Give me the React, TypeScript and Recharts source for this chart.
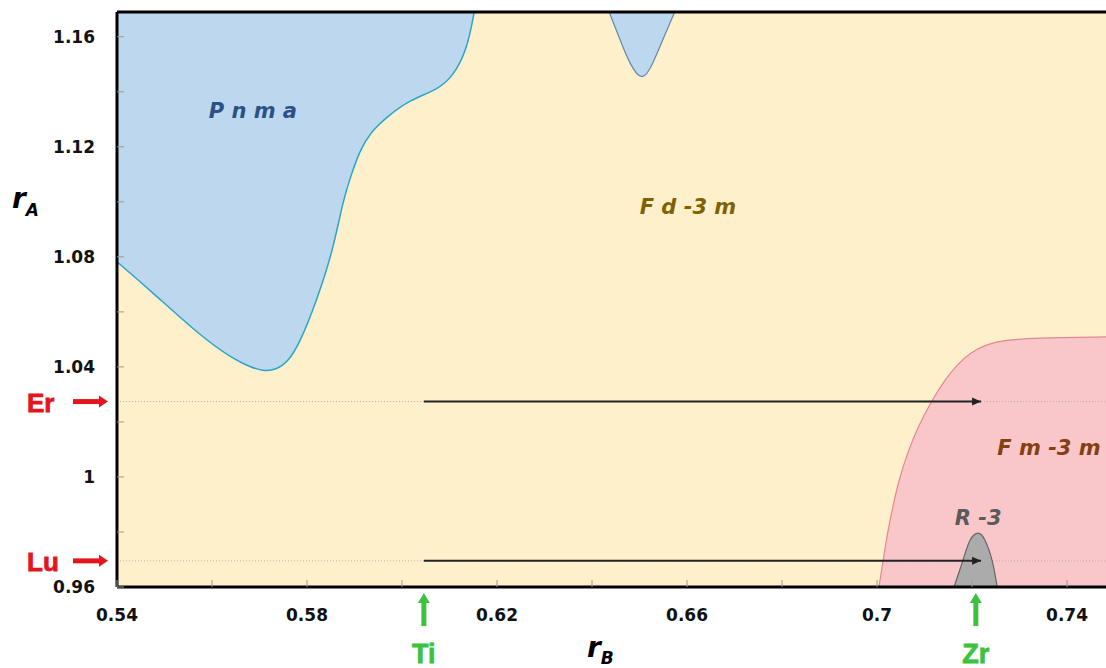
import React from 'react'
import {
  Area,
  CartesianGrid,
  ComposedChart,
  Line,
  ReferenceLine,
  Scatter,
  XAxis,
  YAxis,
} from 'recharts'

// axis ranges (picture is cropped on the right)
const X_MIN = 0.54
const X_MAX = 0.7482
const Y_MIN = 0.96
const Y_MAX = 1.169

const xTicks = [0.54, 0.56, 0.58, 0.6, 0.62, 0.64, 0.66, 0.68, 0.7, 0.72, 0.74]
const xMajor = [0.54, 0.58, 0.62, 0.66, 0.7, 0.74]
const yTicks = [0.96, 0.98, 1, 1.02, 1.04, 1.06, 1.08, 1.1, 1.12, 1.14, 1.16]
const yMajor = [0.96, 1, 1.04, 1.08, 1.12, 1.16]

// Pnma boundary (region above the curve)
const pnmaRB = [0.54, 0.5469, 0.5575, 0.5644, 0.568, 0.5707, 0.5735, 0.576, 0.5785, 0.5821, 0.5855, 0.5876, 0.5893, 0.5912, 0.5933, 0.5968, 0.6017, 0.6074, 0.6107, 0.6137, 0.6152]
const pnmaRA = [1.0782, 1.068, 1.0513, 1.0429, 1.04, 1.0385, 1.0389, 1.0418, 1.0487, 1.0644, 1.0825, 1.1007, 1.1098, 1.1189, 1.1251, 1.1309, 1.1371, 1.1407, 1.1455, 1.1553, 1.169]

// small Pnma pocket at the top
const pocketRB = [0.6436, 0.6459, 0.648, 0.6505, 0.6528, 0.6549, 0.6574]
const pocketRA = [1.169, 1.1589, 1.1505, 1.1455, 1.1505, 1.1589, 1.169]

// Fm-3m boundary (region below the curve)
const fmRB = [0.7004, 0.7013, 0.7022, 0.7033, 0.7046, 0.7064, 0.7086, 0.7116, 0.7143, 0.7168, 0.7196, 0.7227, 0.7269, 0.7333, 0.7482]
const fmRA = [0.96, 0.9698, 0.9796, 0.9891, 0.9989, 1.0087, 1.0182, 1.028, 1.0353, 1.0407, 1.0451, 1.048, 1.0498, 1.0505, 1.0509]

// R-3 bump
const r3RB = [0.7162, 0.7181, 0.7196, 0.7213, 0.7227, 0.7242, 0.7253]
const r3RA = [0.96, 0.9698, 0.9771, 0.9796, 0.9771, 0.9698, 0.96]

// ions
const ER = 1.0274
const LU = 0.9695
const TI = 0.6046
const ZR = 0.7208
const ARROW_END = 0.7219

const phaseNames = ['P n m a', 'F d -3 m', 'F m -3 m', 'R -3']
const phaseRB = [0.5686, 0.6602, 0.7362, 0.7213]
const phaseRA = [1.1331, 1.0982, 1.0105, 0.9851]
const phaseColors = ['#2a5286', '#7f6200', '#843f12', '#5a5a5a']

const zip = (xs: number[], ys: number[]) => xs.map((x, i) => ({ x, y: ys[i] }))

const pnmaData = zip(pnmaRB, pnmaRA)
const pocketData = zip(pocketRB, pocketRA)
const fmData = zip(fmRB, fmRA)
const r3Data = zip(r3RB, r3RA)
const erArrow = zip([TI, ARROW_END], [ER, ER])
const luArrow = zip([TI, ARROW_END], [LU, LU])
const phaseData = phaseNames.map((name, i) => ({
  name,
  x: phaseRB[i],
  y: phaseRA[i],
  color: phaseColors[i],
}))

const NUM_FONT = '"DejaVu Sans", Verdana, sans-serif'
const LBL_FONT = '"Liberation Sans", Arial, sans-serif'
const RED = '#e3161b'
const GREEN = '#3cc23c'

function XTick({ x, y, payload }: any) {
  const major = xMajor.includes(payload.value)
  return (
    <g>
      <line x1={x} x2={x} y1={y} y2={y - 7} stroke="#9a9a9a" strokeWidth={1} />
      {major && (
        <text
          x={x}
          y={y + 34}
          textAnchor="middle"
          fontFamily={NUM_FONT}
          fontWeight="bold"
          fontSize={17}
          fill="#111"
        >
          {String(payload.value)}
        </text>
      )}
    </g>
  )
}

function YTick({ x, y, payload }: any) {
  const major = yMajor.includes(payload.value)
  return (
    <g>
      <line x1={x} x2={x + 7} y1={y} y2={y} stroke="#9a9a9a" strokeWidth={1} />
      {major && (
        <text
          x={x - 22}
          y={y + 6}
          textAnchor="end"
          fontFamily={NUM_FONT}
          fontWeight="bold"
          fontSize={17}
          fill="#111"
        >
          {String(payload.value)}
        </text>
      )}
    </g>
  )
}

// red label + arrow left of the plot
function IonLeft({ viewBox, name }: any) {
  const x0 = viewBox.x
  const y = viewBox.y
  return (
    <g>
      <text
        x={27}
        y={y + 10}
        fontFamily={LBL_FONT}
        fontWeight="bold"
        fontSize={26}
        fill={RED}
        stroke={RED}
        strokeWidth={0.8}
      >
        {name}
      </text>
      <line x1={x0 - 44} x2={x0 - 16} y1={y} y2={y} stroke={RED} strokeWidth={5} />
      <polygon
        points={`${x0 - 9},${y} ${x0 - 18},${y - 6} ${x0 - 18},${y + 6}`}
        fill={RED}
      />
    </g>
  )
}

// green arrow + label under the plot
function IonBelow({ viewBox, name }: any) {
  const x = viewBox.x
  const yb = viewBox.y + viewBox.height
  return (
    <g>
      <line x1={x} x2={x} y1={yb + 39} y2={yb + 14} stroke={GREEN} strokeWidth={5} />
      <polygon
        points={`${x},${yb + 6} ${x - 6},${yb + 16} ${x + 6},${yb + 16}`}
        fill={GREEN}
      />
      <text
        x={x}
        y={yb + 76}
        textAnchor="middle"
        fontFamily={LBL_FONT}
        fontWeight="bold"
        fontSize={27}
        fill={GREEN}
        stroke={GREEN}
        strokeWidth={0.8}
      >
        {name}
      </text>
    </g>
  )
}

function ArrowDot({ cx, cy, index }: any) {
  if (index !== 1) return <g key={`d${index}`} />
  return (
    <polygon
      key={`d${index}`}
      points={`${cx},${cy} ${cx - 9},${cy - 4} ${cx - 9},${cy + 4}`}
      fill="#222"
    />
  )
}

function PhaseLabel({ cx, cy, payload }: any) {
  return (
    <text
      x={cx}
      y={cy}
      dy={7}
      textAnchor="middle"
      fontFamily={NUM_FONT}
      fontWeight="bold"
      fontStyle="italic"
      fontSize={21}
      fill={payload.color}
    >
      {payload.name}
    </text>
  )
}

export default function App() {
  return (
    <div style={{ position: 'absolute', left: 0, top: 0, width: 1106, height: 668, overflow: 'hidden', background: '#fff' }}>
      <ComposedChart width={1106} height={668} margin={{ top: 12, right: 0, left: 0, bottom: 0 }}>
        <CartesianGrid horizontal={false} vertical={false} fill="#fff0cc" stroke="none" />
        <XAxis
          type="number"
          dataKey="x"
          domain={[X_MIN, X_MAX]}
          allowDataOverflow
          ticks={xTicks}
          interval={0}
          height={81}
          tickSize={0}
          tickMargin={0}
          tick={<XTick />}
          axisLine={{ stroke: '#000', strokeWidth: 3 }}
          label={() => (
            <text x={587} y={657} fontFamily={NUM_FONT} fontWeight="bold" fontStyle="italic" fill="#000">
              <tspan fontSize={28}>r</tspan>
              <tspan fontSize={17} dy={7}>B</tspan>
            </text>
          )}
        />
        <YAxis
          type="number"
          dataKey="y"
          domain={[Y_MIN, Y_MAX]}
          allowDataOverflow
          ticks={yTicks}
          interval={0}
          width={117}
          tickSize={0}
          tickMargin={0}
          tick={<YTick />}
          axisLine={{ stroke: '#000', strokeWidth: 3 }}
          label={() => (
            <text x={12} y={208} fontFamily={NUM_FONT} fontWeight="bold" fontStyle="italic" fill="#000">
              <tspan fontSize={28}>r</tspan>
              <tspan fontSize={17} dy={8}>A</tspan>
            </text>
          )}
        />

        <Area
          data={pnmaData}
          dataKey="y"
          type="basis"
          baseValue="dataMax"
          fill="#bdd7ee"
          fillOpacity={1}
          stroke="#2ba6c8"
          strokeWidth={1.5}
          dot={false}
          activeDot={false}
          isAnimationActive={false}
        />
        <Area
          data={pocketData}
          dataKey="y"
          type="natural"
          baseValue="dataMax"
          fill="#bdd7ee"
          fillOpacity={1}
          stroke="#6488ac"
          strokeWidth={1.2}
          dot={false}
          activeDot={false}
          isAnimationActive={false}
        />
        <Area
          data={fmData}
          dataKey="y"
          type="basis"
          baseValue="dataMin"
          fill="#f9c7ca"
          fillOpacity={1}
          stroke="#e2898f"
          strokeWidth={1.2}
          dot={false}
          activeDot={false}
          isAnimationActive={false}
        />
        <Area
          data={r3Data}
          dataKey="y"
          type="natural"
          baseValue="dataMin"
          fill="#ababab"
          fillOpacity={1}
          stroke="#666"
          strokeWidth={1.2}
          dot={false}
          activeDot={false}
          isAnimationActive={false}
        />

        <ReferenceLine
          y={ER}
          stroke="#b9aeb0"
          strokeDasharray="1 2"
          label={(p: any) => <IonLeft viewBox={p.viewBox} name="Er" />}
        />
        <ReferenceLine
          y={LU}
          stroke="#b9aeb0"
          strokeDasharray="1 2"
          label={(p: any) => <IonLeft viewBox={p.viewBox} name="Lu" />}
        />
        <ReferenceLine
          x={TI}
          stroke="none"
          label={(p: any) => <IonBelow viewBox={p.viewBox} name="Ti" />}
        />
        <ReferenceLine
          x={ZR}
          stroke="none"
          label={(p: any) => <IonBelow viewBox={p.viewBox} name="Zr" />}
        />

        <Line
          data={erArrow}
          dataKey="y"
          stroke="#222"
          strokeWidth={2}
          dot={<ArrowDot />}
          activeDot={false}
          isAnimationActive={false}
        />
        <Line
          data={luArrow}
          dataKey="y"
          stroke="#222"
          strokeWidth={2}
          dot={<ArrowDot />}
          activeDot={false}
          isAnimationActive={false}
        />

        <Scatter data={phaseData} dataKey="y" shape={<PhaseLabel />} isAnimationActive={false} />

        <ReferenceLine y={Y_MAX} stroke="#000" strokeWidth={3} />
      </ComposedChart>
    </div>
  )
}
